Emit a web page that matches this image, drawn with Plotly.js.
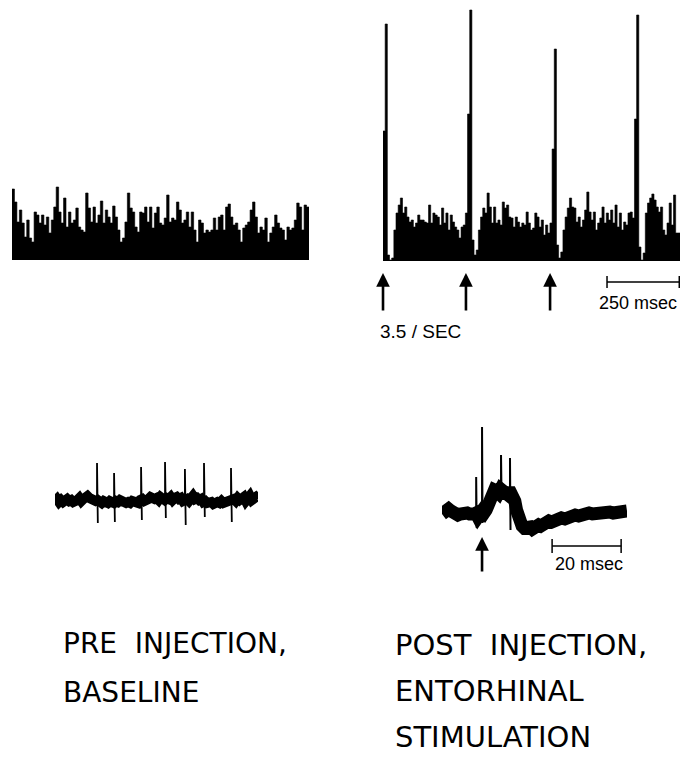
<!DOCTYPE html>
<html><head><meta charset="utf-8">
<script src="https://cdn.plot.ly/plotly-3.0.1.min.js"></script>
<style>html,body{margin:0;padding:0;background:#fff}#chart{width:692px;height:757px}</style>
</head><body><div id="chart"></div>
<script>
// ---------- DATA ----------
// Pre-injection baseline histogram (counts per bin)
const preCounts = [71,58,38,50,37,23,40,22,18,48,45,37,45,35,43,27,40,53,73,48,37,62,33,48,37,40,52,33,30,28,67,52,38,53,37,45,59,37,50,43,37,54,43,30,18,22,38,67,52,48,33,28,48,47,53,38,53,32,47,
  53,37,35,42,65,38,42,40,58,50,37,40,48,33,48,30,18,40,37,27,30,28,30,42,30,43,45,30,53,56,43,35,37,30,18,32,35,38,50,58,43,27,33,30,42,18,27,33,45,37,32,30,20,33,30,32,40,57,53,30,55,53];
// Post-injection histogram with entorhinal stimulation at 3.5/sec (counts per bin)
const postCounts = [130,237,6,1,3, 31,48,56,63,48,54,44,39,41,34,38,46,41,41,39,38,56,38,48,46,44,36,53,38,48,31,46,39,34,31,23,34,36,48,
  147,251,21,6,11, 31,44,53,48,68,54,38,54,38,41,36,59,53,56,44,43,34,44,39,34,38,36,49,38,31,33,48,44,34,41,26,36,28,38,
  112,212,16,3,9, 31,44,53,63,54,53,39,44,34,41,51,69,49,41,49,31,38,43,54,38,48,41,51,38,56,34,48,31,39,36,48,49,43,
  142,246,14,1,8, 48,58,63,67,61,54,49,54,31,26,38,58,36,66,28,28];
const binMs = 7.5;                 // histogram bin width (msec)
const stimTimesMs = [0, 287, 578]; // stimulus arrows
const topScaleMs = 250;

// Pre-injection single-unit trace (arbitrary time units, amplitude)
const preTraceV = [-1,1,-2,0,-2,0,1,-1,0,-2, 1,0,2,-1,1,2,4,2,0,1, -1,0,-2,-3,-1,-2,-3,-1,-2,-3,
  -1,-2,0,-2,-1,-3,-2,-3,-1,-2, -1,-3,0,1,-1,2,1,3,0,1, 2,0,3,1,0,2,1,3,0,2,
  3,1,2,-1,0,1,-1,2,4,1, 2,0,1,-2,-1,-3,-1,-2,-4,-1, -2,-3,-1,-3,-2,-1,-2,0,1,-1, 2,0,1,3,-1,1,4,0,2,3, 1];
const preSpikeT = [20.7,29.1,42.4,54.2,64.0,73.4,86.7];
const preSpikeUp = [37,27,33,38,31,37,32];
const preSpikeDown = [-23,-22,-20,-18,-25,-17,-22];

// Post-injection evoked response trace (msec from stimulus)
const postTraceT = [-11.6,-11,-10.3,-9.7,-9,-8.3,-7.6,-7,-6.3,-5.6,-5,-4.3,-3.6,-3,-2.4,-1.8,-1.2,-0.6,0,0.6,
  1.2,1.8,2.4,3,3.6,4.2,4.8,5.4,6,6.6,7.2,7.8,8.4,9,9.5,10,10.5,11,11.6,12.2,
  12.8,13.4,14,14.6,15.2,15.8,16.4,17,17.8,18.6,19.4,20.2,21,22,23,24,25,26,27,28,
  29,30,31,32,33,34,35,36,37,38,39,40,41,42];
const postTraceV = [-1,1,0,4,2,-1,0,-2,-1,0,-2,0,-1,1,-1,0,-4,-1,2,0,
  3,9,16,21,23,22,20,24,21,23,19,24,21,20,12,3,-5,-10,-13,-15,
  -14,-16,-14,-16,-13,-15,-12,-13,-10,-11,-8,-9,-7,-7,-5,-6,-4,-4,-2,-3,
  -1,-2,0,-1,0,1,-1,0,1,0,1,2,1,2];
const postSpikeT = [-1.7,0,5.5,8.1];
const postSpikeUp = [36,86,58,55];
const postSpikeDown = [-15,-10,18,-17];
const bottomScaleMs = 20;

// ---------- BUILD ----------
const W = 692, H = 757;
const px = p => p / W, py = p => 1 - p / H;

function stepXY(counts, w, x0){
  const x = [], y = [];
  counts.forEach((c,i) => { x.push(x0 + i*w); y.push(c); });
  x.push(x0 + counts.length*w); y.push(counts[counts.length-1]);
  return {x, y};
}
function spikeXY(ts, ups, downs, dt){
  const x = [], y = [];
  ts.forEach((t,i) => { x.push(t, t, t+dt, null); y.push(0, ups[i], downs[i], null); });
  return {x, y};
}
const preStep = stepXY(preCounts, 1, 0);
const postStep = stepXY(postCounts, binMs, 0);
const preSp = spikeXY(preSpikeT, preSpikeUp, preSpikeDown, 0.4);
const postSp = spikeXY(postSpikeT, postSpikeUp, postSpikeDown, 0.15);
postSp.y[postSp.y.length-8] = 20; postSp.y[postSp.y.length-4] = 20;

const traces = [
  {type:'scatter', mode:'lines', x: preStep.x, y: preStep.y, xaxis:'x', yaxis:'y', fill:'tozeroy',
   fillcolor:'#000', line:{color:'#000', width:0.6, shape:'hv'}, hoverinfo:'skip'},
  {type:'scatter', mode:'lines', x: postStep.x, y: postStep.y, xaxis:'x2', yaxis:'y2', fill:'tozeroy',
   fillcolor:'#000', line:{color:'#000', width:0.6, shape:'hv'}, hoverinfo:'skip'},
  {type:'scatter', mode:'lines', x: preTraceV.map((_,i)=>i), y: preTraceV, xaxis:'x3', yaxis:'y3',
   line:{color:'#000', width:10}, hoverinfo:'skip'},
  {type:'scatter', mode:'lines', x: preSp.x, y: preSp.y, xaxis:'x3', yaxis:'y3', connectgaps:false,
   line:{color:'#000', width:1.8}, hoverinfo:'skip'},
  {type:'scatter', mode:'lines', x: postTraceT, y: postTraceV, xaxis:'x4', yaxis:'y4',
   line:{color:'#000', width:13}, hoverinfo:'skip'},
  {type:'scatter', mode:'lines', x: postSp.x, y: postSp.y, xaxis:'x4', yaxis:'y4', connectgaps:false,
   line:{color:'#000', width:2}, hoverinfo:'skip'}
];

const hid = {visible:false, showgrid:false, zeroline:false, fixedrange:true};
const topScaleX0 = 775;
const botScaleX0 = 20.3;

const shapes = [
  {type:'line', xref:'x2', yref:'y2', x0:topScaleX0, x1:topScaleX0+topScaleMs, y0:-21, y1:-21, line:{color:'#000', width:1.5}},
  {type:'line', xref:'x2', yref:'y2', x0:topScaleX0, x1:topScaleX0, y0:-15, y1:-27, line:{color:'#000', width:1.5}},
  {type:'line', xref:'x2', yref:'y2', x0:topScaleX0+topScaleMs, x1:topScaleX0+topScaleMs, y0:-15, y1:-27, line:{color:'#000', width:1.5}},
  {type:'line', xref:'x4', yref:'y4', x0:botScaleX0, x1:botScaleX0+bottomScaleMs, y0:-33, y1:-33, line:{color:'#000', width:1.5}},
  {type:'line', xref:'x4', yref:'y4', x0:botScaleX0, x1:botScaleX0, y0:-26, y1:-40, line:{color:'#000', width:1.5}},
  {type:'line', xref:'x4', yref:'y4', x0:botScaleX0+bottomScaleMs, x1:botScaleX0+bottomScaleMs, y0:-26, y1:-40, line:{color:'#000', width:1.5}}
];

const arrowStyle = {showarrow:true, arrowhead:2, arrowsize:1.05, arrowwidth:2.6, arrowcolor:'#000', text:'', standoff:0, startstandoff:0};
const annotations = [];
stimTimesMs.forEach(t => annotations.push(Object.assign({x:t, y:-12, xref:'x2', yref:'y2', axref:'x2', ayref:'y2', ax:t, ay:-51}, arrowStyle)));
annotations.push(Object.assign({x:0, y:-24, xref:'x4', yref:'y4', axref:'x4', ayref:'y4', ax:0, ay:-60}, arrowStyle));

const smallFam = 'Liberation Sans, Arial, sans-serif';
annotations.push({text:'3.5 / SEC', x:-17, y:-70, xref:'x2', yref:'y2', xanchor:'left', yanchor:'middle', showarrow:false, font:{family:smallFam, size:19, color:'#000'}});
annotations.push({text:topScaleMs+' msec', x:882, y:-42, xref:'x2', yref:'y2', xanchor:'center', yanchor:'middle', showarrow:false, font:{family:smallFam, size:18, color:'#000'}});
annotations.push({text:bottomScaleMs+' msec', x:31, y:-51, xref:'x4', yref:'y4', xanchor:'center', yanchor:'middle', showarrow:false, font:{family:smallFam, size:18, color:'#000'}});

const labels = [
  ['PRE\u00A0 INJECTION,', 61, 643, 28],
  ['BASELINE', 61, 692, 28],
  ['POST\u00A0 INJECTION,', 393, 645, 29],
  ['ENTORHINAL', 393, 691, 29],
  ['STIMULATION', 393, 737, 29]
];
labels.forEach(([t,x,y,s]) => annotations.push({text:t, x:px(x), y:py(y), xref:'paper', yref:'paper', xanchor:'left', yanchor:'middle', showarrow:false, font:{family:'DejaVu Sans, sans-serif', size:s, color:'#000'}}));

const layout = {
  width:W, height:H, margin:{l:0,r:0,t:0,b:0}, paper_bgcolor:'#fff', plot_bgcolor:'rgba(0,0,0,0)',
  showlegend:false,
  xaxis: Object.assign({domain:[px(12), px(309)], range:[0, preCounts.length], anchor:'y'}, hid),
  yaxis: Object.assign({domain:[py(350), 1], range:[-90, 260], anchor:'x'}, hid),
  xaxis2: Object.assign({domain:[px(370), px(680)], range:[-45, postCounts.length*binMs], anchor:'y2'}, hid),
  yaxis2: Object.assign({domain:[py(350), 1], range:[-89, 261], anchor:'x2'}, hid),
  xaxis3: Object.assign({domain:[px(55), px(258)], range:[0, 100], anchor:'y3'}, hid),
  yaxis3: Object.assign({domain:[py(540), py(430)], range:[-40, 70], anchor:'x3'}, hid),
  xaxis4: Object.assign({domain:[px(442), px(627)], range:[-11.6, 42], anchor:'y4'}, hid),
  yaxis4: Object.assign({domain:[py(590), py(400)], range:[-77, 113], anchor:'x4'}, hid),
  shapes, annotations
};
Plotly.newPlot('chart', traces, layout, {staticPlot:true, displayModeBar:false});
</script>
</body></html>
